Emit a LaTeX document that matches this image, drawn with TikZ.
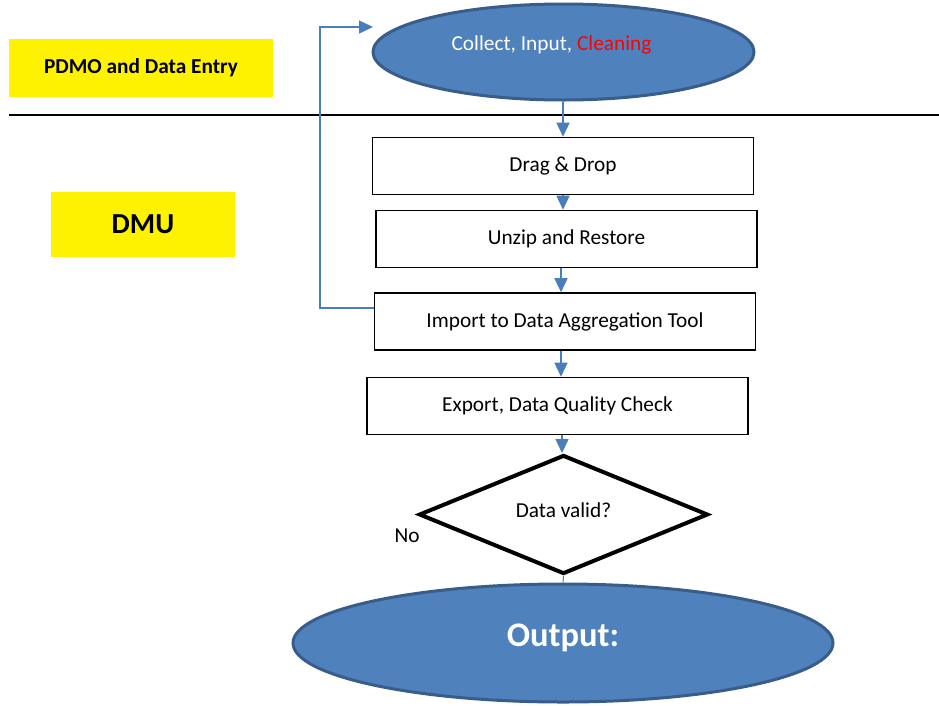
\documentclass[tikz,border=0pt]{standalone}
\usepackage{fontspec}
\setmainfont{Carlito}
\usetikzlibrary{shapes.geometric,arrows.meta}
\definecolor{fillblue}{HTML}{4F81BD}
\definecolor{edgeblue}{HTML}{385D8A}
\definecolor{lineblue}{HTML}{4A7EBB}
\begin{document}
\begin{tikzpicture}[x=1pt,y=1pt,
  lbl/.style={fill=yellow, inner sep=0pt},
  oval/.style={ellipse, fill=fillblue, draw=edgeblue, line width=3pt, inner sep=0pt},
  stepbox/.style={draw=black, line width=1.6pt, minimum width=381pt, minimum height=57pt, inner sep=0pt, font=\fontsize{21.3}{25}\selectfont},
  txt/.style={inner sep=0pt, font=\fontsize{21.3}{25}\selectfont},
  flow/.style={draw=lineblue, line width=1.5pt, -{Triangle[width=13pt,length=14pt]}},
]
\useasboundingbox (0,0) rectangle (939,-705);
\node[lbl, minimum width=264pt, minimum height=58pt, font=\bfseries\fontsize{21.3}{25}\selectfont] (pdmo) at (141,-68) {PDMO and Data Entry};
\node[lbl, minimum width=184pt, minimum height=65pt, font=\bfseries\fontsize{29}{33}\selectfont] (dmu) at (143,-224.5) {DMU};
\coordinate (sepL) at (9,-115);
\coordinate (sepR) at (939,-115);
\draw[line width=2pt] (sepL) -- (sepR);

\node[oval, minimum width=381pt, minimum height=96pt] (collect) at (563.5,-52) {};
\node[txt, text=white] (collecttxt) at (551.5,-45) {Collect, Input, \textcolor{red}{Cleaning}};

\node[stepbox] (drag) at (563,-166) {Drag \& Drop};
\node[stepbox] (unzip) at (566.5,-239) {Unzip and Restore};
\node[stepbox] (import) at (565,-321.5) {Import to Data Aggregation Tool};
\node[stepbox] (export) at (557.5,-406) {Export, Data Quality Check};

\node[diamond, draw=black, line width=4pt, shape aspect=2.43, minimum width=289pt, minimum height=119pt, inner sep=0pt] (valid) at (563.5,-514.5) {};
\node[txt] (validtxt) at (563.5,-510) {Data valid?};
\node[txt] (no) at (407,-536) {No};

\node[oval, minimum width=540pt, minimum height=118pt] (output) at (563,-643) {};
\node[inner sep=0pt, text=white, font=\bfseries\fontsize{34.5}{40}\selectfont] (outtxt) at (563,-638) {Output:};

\draw[flow] (collect.south -| drag.north) -- (drag.north);
\draw[flow] (drag.south) -- (drag.south |- unzip.north);
\draw[flow] (unzip.south -| 561,0) -- (import.north -| 561,0);
\draw[flow] (import.south -| 561,0) -- (export.north -| 561,0);
\draw[flow] (export.south -| 562,0) -- (valid.north -| 562,0);
\draw[draw=lineblue, line width=1pt] (valid.south) -- (output.north);

\coordinate (fbcorner) at (320,-27);
\coordinate (fbtip) at (373,-27);
\draw[flow] ([yshift=13.5pt]import.west) -| (fbcorner) -- (fbtip);
\end{tikzpicture}
\end{document}
